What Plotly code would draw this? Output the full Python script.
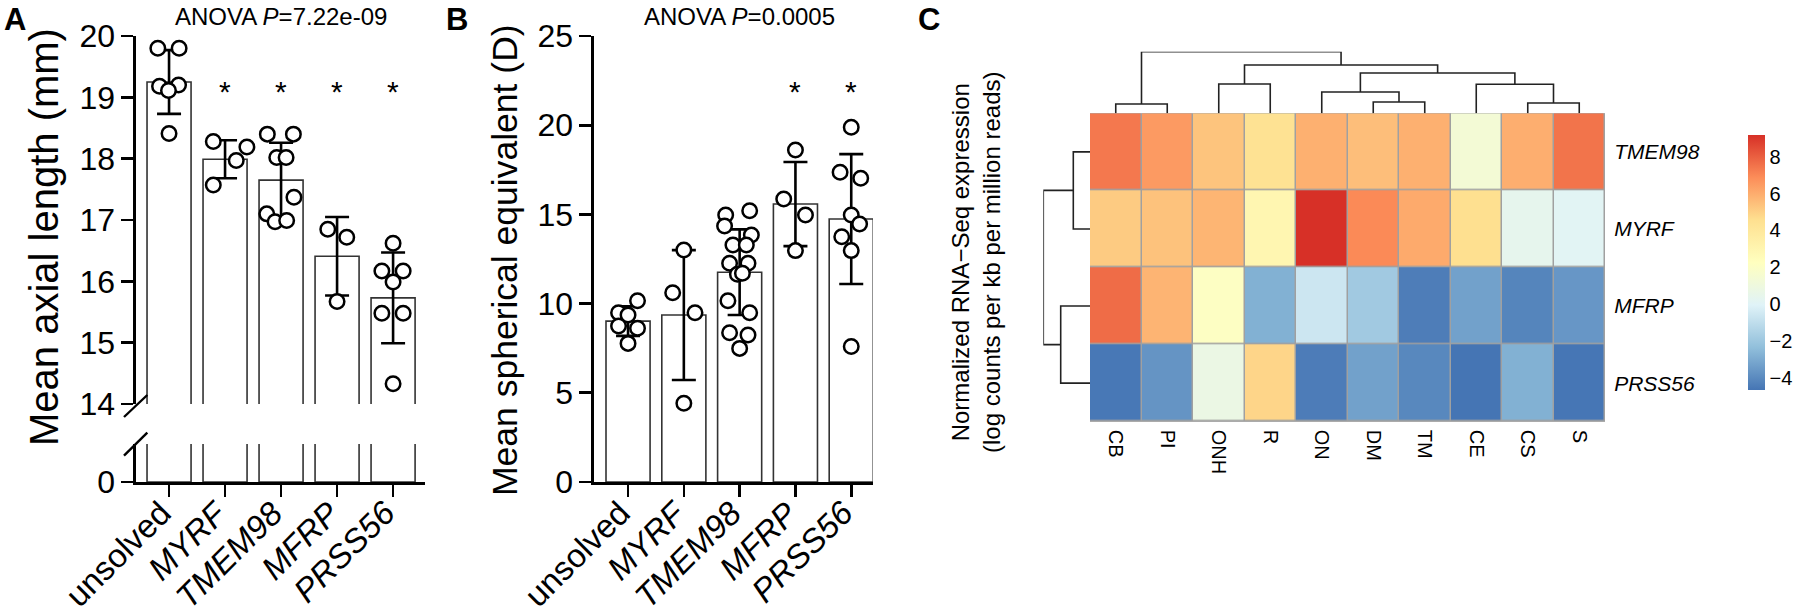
import plotly.graph_objects as go

W, H = 1800, 616
def px(x): return x / W
def py(y): return 1 - y / H

FONT = "Liberation Sans, Arial, sans-serif"

# ---------------- data ----------------
groups = ["unsolved", "MYRF", "TMEM98", "MFRP", "PRSS56"]
group_labels = ["unsolved", "<i>MYRF</i>", "<i>TMEM98</i>", "<i>MFRP</i>", "<i>PRSS56</i>"]

# Panel A: mean axial length (mm)
axial_mean = [19.25, 17.99, 17.65, 16.41, 15.73]
axial_sd = [0.52, 0.31, 0.61, 0.64, 0.74]
axial_points = [
    [19.80, 19.80, 19.18, 19.20, 19.11, 18.41],
    [18.28, 18.19, 17.97, 17.57],
    [18.40, 18.40, 18.02, 18.02, 17.37, 17.10, 16.97, 16.99],
    [16.85, 16.72, 15.67],
    [16.62, 16.17, 16.17, 15.99, 15.48, 15.48, 14.33],
]
axial_jitter = [
    [-0.20, 0.18, -0.17, 0.17, -0.01, 0.0],
    [-0.21, 0.39, 0.20, -0.21],
    [-0.245, 0.22, -0.077, 0.09, 0.23, -0.255, -0.107, 0.10],
    [-0.166, 0.173, 0.0],
    [0.0, -0.2, 0.18, 0.0, -0.2, 0.18, 0.0],
]
axial_sig = [False, True, True, True, True]
axial_p = "ANOVA <i>P</i>=7.22e-09"

# Panel B: mean spherical equivalent (D)
spher_mean = [9.02, 9.36, 11.76, 15.58, 14.74]
spher_sd = [0.83, 3.64, 2.40, 2.36, 3.64]
spher_points = [
    [10.16, 9.49, 9.36, 8.74, 8.62, 7.77],
    [13.0, 10.61, 9.49, 4.41],
    [14.97, 15.21, 14.35, 13.85, 13.28, 13.28, 12.26, 12.26, 11.65, 11.7, 10.16, 9.49, 8.37, 8.24, 7.49],
    [18.61, 15.86, 14.97, 12.97],
    [19.88, 17.36, 17.02, 14.97, 14.46, 13.75, 12.97, 7.59],
]
spher_jitter = [
    [0.17, -0.17, 0.0, -0.17, 0.17, 0.0],
    [0.0, -0.2, 0.2, 0.0],
    [-0.25, 0.18, -0.27, 0.21, -0.12, 0.12, -0.18, 0.15, -0.04, 0.05, -0.21, 0.18, -0.18, 0.15, 0.0],
    [0.0, -0.21, 0.18, 0.0],
    [0.0, -0.2, 0.17, 0.0, 0.15, -0.17, 0.0, 0.0],
]
spher_sig = [False, False, False, True, True]
spher_p = "ANOVA <i>P</i>=0.0005"

# Panel C: heatmap
tissues = ["CB", "PI", "ONH", "R", "ON", "DM", "TM", "CE", "CS", "S"]
genes = ["TMEM98", "MYRF", "MFRP", "PRSS56"]
expr = [
    [7.4, 6.5, 5.35, 4.4, 5.9, 5.5, 5.9, 1.36, 5.95, 7.5],
    [5.15, 5.4, 5.77, 2.93, 9.18, 6.95, 6.07, 4.55, 0.4, 0.1],
    [7.7, 5.8, 2.1, -2.8, -0.63, -1.9, -4.4, -3.3, -4.17, -3.62],
    [-4.57, -3.69, 0.76, 4.87, -4.43, -3.28, -4.08, -4.66, -2.8, -4.63],
]
zmin, zmax = -4.66, 9.18
# hierarchical clustering (leaf/cluster a, leaf/cluster b, height)
col_merges = [(0, 1, 9.3), (2, 3, 29.3), (5, 6, 11.3), (4, 12, 21.3), (8, 9, 10.3),
              (7, 14, 29.0), (13, 15, 40.3), (11, 16, 48.3), (10, 17, 61.6)]
row_merges = [(0, 1, 16.7), (2, 3, 29.3), (4, 5, 46.7)]

rdylbu = ["#4575B4", "#91BFDB", "#E0F3F8", "#FFFFBF", "#FEE090", "#FC8D59", "#D73027"]
colorscale = [[i / 6, c] for i, c in enumerate(rdylbu)]


def dendro(n, merges):
    pos = {i: float(i) for i in range(n)}
    hgt = {i: 0.0 for i in range(n)}
    p, h = [], []
    for k, (a, b, hh) in enumerate(merges):
        pa, pb = pos[a], pos[b]
        p += [pa, pa, pb, pb, None]
        h += [hgt[a], hh, hh, hgt[b], None]
        pos[n + k] = (pa + pb) / 2
        hgt[n + k] = hh
    return p, h


fig = go.Figure()

# ---------------- panel A ----------------
bar_style = dict(marker=dict(color="white", line=dict(color="#333333", width=1.6)), width=0.786,
                 showlegend=False, hoverinfo="skip")
fig.add_trace(go.Bar(x=list(range(5)), y=axial_mean, xaxis="x", yaxis="y",
                     error_y=dict(type="data", array=axial_sd, color="black", thickness=2.6, width=12),
                     **bar_style))
fig.add_trace(go.Bar(x=list(range(5)), y=axial_mean, xaxis="x", yaxis="y2", **bar_style))
xa, ya = [], []
for g, (vals, jit) in enumerate(zip(axial_points, axial_jitter)):
    for v, j in zip(vals, jit):
        xa.append(g + j)
        ya.append(v)
pt_marker = dict(size=14.5, color="white", line=dict(color="black", width=2.5), symbol="circle")
fig.add_trace(go.Scatter(x=xa, y=ya, mode="markers", marker=pt_marker, xaxis="x", yaxis="y",
                         showlegend=False, hoverinfo="skip", cliponaxis=False))

# ---------------- panel B ----------------
bar_style_b = dict(bar_style)
bar_style_b["width"] = 0.79
fig.add_trace(go.Bar(x=list(range(5)), y=spher_mean, xaxis="x2", yaxis="y3",
                     error_y=dict(type="data", array=spher_sd, color="black", thickness=2.6, width=12),
                     **bar_style_b))
xb, yb = [], []
for g, (vals, jit) in enumerate(zip(spher_points, spher_jitter)):
    for v, j in zip(vals, jit):
        xb.append(g + j)
        yb.append(v)
fig.add_trace(go.Scatter(x=xb, y=yb, mode="markers", marker=pt_marker, xaxis="x2", yaxis="y3",
                         showlegend=False, hoverinfo="skip", cliponaxis=False))

# ---------------- panel C ----------------
fig.add_trace(go.Heatmap(
    z=expr, x=list(range(len(tissues))), y=list(range(len(genes))),
    colorscale=colorscale, zmin=zmin, zmax=zmax, xgap=1.5, ygap=1.5,
    xaxis="x3", yaxis="y4", hoverinfo="skip",
    colorbar=dict(x=px(1748), xanchor="left", y=py(262.5), yanchor="middle",
                  len=255, lenmode="pixels", thickness=17, thicknessmode="pixels",
                  outlinewidth=0, xpad=0, ypad=0, tickvals=[-4, -2, 0, 2, 4, 6, 8],
                  ticks="", tickfont=dict(family=FONT, size=20, color="black")),
))
cp, ch = dendro(len(tissues), col_merges)
fig.add_trace(go.Scatter(x=cp, y=ch, mode="lines", line=dict(color="#222222", width=1.6),
                         xaxis="x4", yaxis="y5", showlegend=False, hoverinfo="skip", cliponaxis=False))
rp, rh = dendro(len(genes), row_merges)
fig.add_trace(go.Scatter(x=rh, y=rp, mode="lines", line=dict(color="#222222", width=1.6),
                         xaxis="x5", yaxis="y6", showlegend=False, hoverinfo="skip", cliponaxis=False))

# ---------------- axes ----------------
axis_common = dict(showgrid=False, zeroline=False, showline=True, linecolor="black", linewidth=2.6,
                   ticks="outside", ticklen=12, tickwidth=2.6, tickcolor="black", automargin=False,
                   tickfont=dict(family=FONT, size=32, color="black"))

A_top, A_bot_up, A_top_low, A_bot = 36, 404, 444, 482
fig.update_layout(
    template="none",
    xaxis=dict(domain=[px(136), px(425)], range=[-0.59, 4.57], anchor="y2",
               tickvals=list(range(5)), showticklabels=False, **axis_common),
    yaxis=dict(domain=[py(A_bot_up), py(A_top)], range=[14, 20], anchor="x",
               tickvals=[14, 15, 16, 17, 18, 19, 20], **axis_common),
    yaxis2=dict(domain=[py(A_bot), py(A_top_low)], range=[0, 1], anchor="x",
                tickvals=[0], **axis_common),
    xaxis2=dict(domain=[px(594), px(873)], range=[-0.61, 4.39], anchor="y3",
                tickvals=list(range(5)), showticklabels=False, **axis_common),
    yaxis3=dict(domain=[py(482), py(36)], range=[0, 25], anchor="x2",
                tickvals=[0, 5, 10, 15, 20, 25], **axis_common),
    xaxis3=dict(domain=[px(1090), px(1605)], range=[-0.5, len(tissues) - 0.5], anchor="y4",
                showgrid=False, zeroline=False, showline=False, automargin=False,
                tickvals=list(range(len(tissues))), ticktext=tissues, tickangle=90,
                ticks="outside", ticklen=3, tickcolor="rgba(0,0,0,0)",
                tickfont=dict(family=FONT, size=20, color="black")),
    yaxis4=dict(domain=[py(421.7), py(113.3)], range=[len(genes) - 0.5, -0.5], anchor="x3",
                side="right", showgrid=False, zeroline=False, showline=False, automargin=False,
                tickvals=list(range(len(genes))), ticktext=["<i>%s</i>" % g for g in genes],
                ticks="outside", ticklen=4, tickcolor="rgba(0,0,0,0)",
                tickfont=dict(family=FONT, size=21, color="black")),
    xaxis4=dict(domain=[px(1090), px(1605)], range=[-0.5, len(tissues) - 0.5], anchor="y5",
                visible=False, automargin=False),
    yaxis5=dict(domain=[py(113.3), py(51.7)], range=[0, 61.6], anchor="x4", visible=False, automargin=False),
    xaxis5=dict(domain=[px(1043.3), px(1090)], range=[46.7, 0], anchor="y6", visible=False, automargin=False),
    yaxis6=dict(domain=[py(421.7), py(113.3)], range=[len(genes) - 0.5, -0.5], anchor="x5",
                visible=False, automargin=False),
)

# ---------------- shapes ----------------
shapes = [
    dict(type="rect", xref="x3", yref="y4", x0=-0.5, x1=len(tissues) - 0.5, y0=-0.5, y1=len(genes) - 0.5,
         fillcolor="#A0A0A0", line=dict(color="#A0A0A0", width=1.5), layer="below"),
    dict(type="line", xref="paper", yref="paper", x0=px(124), y0=py(417), x1=px(147.3), y1=py(395),
         line=dict(color="black", width=2.4)),
    dict(type="line", xref="paper", yref="paper", x0=px(124), y0=py(455.7), x1=px(147.3), y1=py(432.7),
         line=dict(color="black", width=2.4)),
]

# ---------------- annotations ----------------
ann = []
def label(text, x, y, size, **kw):
    d = dict(text=text, x=x, y=y, xref="paper", yref="paper", showarrow=False,
             font=dict(family=FONT, size=size, color="black"))
    d.update(kw)
    ann.append(d)

label("<b>A</b>", px(2), py(19), 31, xanchor="left", yanchor="middle")
label("<b>B</b>", px(444), py(19), 31, xanchor="left", yanchor="middle")
label("<b>C</b>", px(916), py(19), 31, xanchor="left", yanchor="middle")
label(axial_p, px(281), py(16), 24, xanchor="center", yanchor="middle")
label(spher_p, px(739), py(16), 24, xanchor="center", yanchor="middle")
label("Mean axial length (mm)", px(44), py(237), 40, xanchor="center", yanchor="middle", textangle=-90)
label("Mean spherical equivalent (D)", px(505), py(260), 35.5, xanchor="center", yanchor="middle", textangle=-90)
label("Normalized RNA\u2212Seq expression<br>(log counts per kb per million reads)", px(976), py(262), 24,
      xanchor="center", yanchor="middle", textangle=-90)

# rotated category labels under the bar panels
for xr in ("x", "x2"):
    for g, t in enumerate(group_labels):
        ann.append(dict(text=t, x=g, y=py(491), xref=xr, yref="paper", xshift=12,
                        xanchor="right", yanchor="top", textangle=-45, showarrow=False,
                        font=dict(family=FONT, size=33, color="black")))

for g, s in enumerate(axial_sig):
    if s:
        ann.append(dict(text="*", x=g, y=19.09, xref="x", yref="y", showarrow=False,
                        font=dict(family=FONT, size=30, color="black"), yanchor="middle"))
for g, s in enumerate(spher_sig):
    if s:
        ann.append(dict(text="*", x=g, y=21.9, xref="x2", yref="y3", showarrow=False,
                        font=dict(family=FONT, size=30, color="black"), yanchor="middle"))

fig.update_layout(
    width=W, height=H, margin=dict(l=0, r=0, t=0, b=0, autoexpand=False),
    paper_bgcolor="white", plot_bgcolor="white", showlegend=False,
    font=dict(family=FONT, color="black"),
    bargap=0, shapes=shapes, annotations=ann,
)

fig.write_html("out.html", config={"displayModeBar": False, "staticPlot": True},
               post_script="document.body.style.margin='0';document.body.style.padding='0';")
